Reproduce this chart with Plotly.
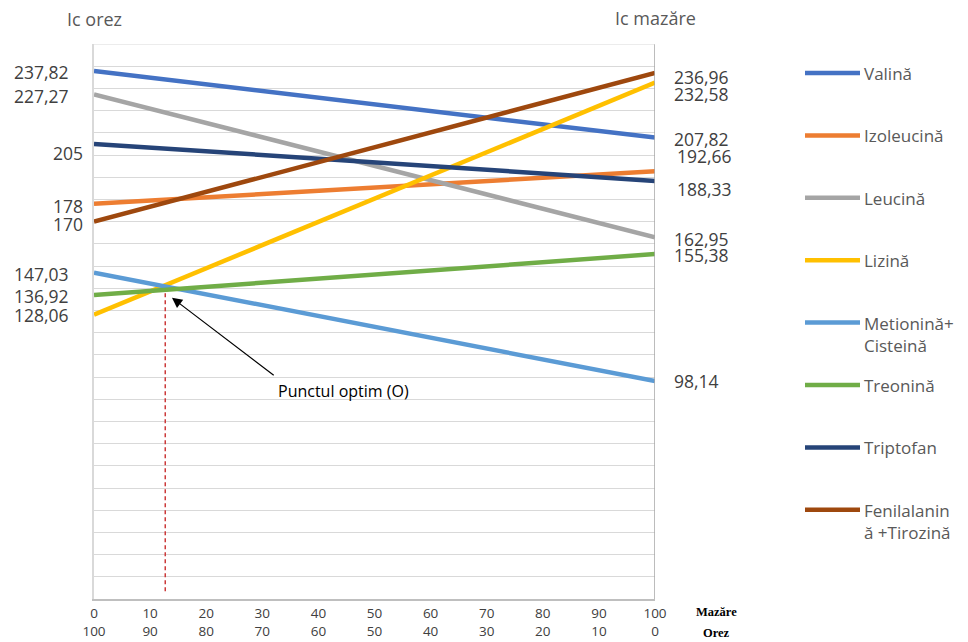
import plotly.graph_objects as go

# --- date ---------------------------------------------------------------
aminoacizi = [
    "Valină", "Izoleucină", "Leucină", "Lizină",
    "Metionină+Cisteină", "Treonină", "Triptofan", "Fenilalanină +Tirozină",
]
# etichetele din legendă, rupte pe două rânduri unde e cazul
etichete_legenda = [
    "Valină", "Izoleucină", "Leucină", "Lizină",
    "Metionină+<br>Cisteină", "Treonină", "Triptofan", "Fenilalanin<br>ă +Tirozină",
]
ic_orez = [237.82, 178, 227.27, 128.06, 147.03, 136.92, 205, 170]
ic_mazare = [207.82, 192.66, 162.95, 232.58, 98.14, 155.38, 188.33, 236.96]

procent_mazare = [0, 10, 20, 30, 40, 50, 60, 70, 80, 90, 100]
procent_orez = [100, 90, 80, 70, 60, 50, 40, 30, 20, 10, 0]

punct_optim_x = 12.7
punct_optim_y = 142

# --- stil ---------------------------------------------------------------
culori = ["#4472C4", "#ED7D31", "#A5A5A5", "#FFC000",
          "#5B9BD5", "#70AD47", "#264478", "#9E480E"]

# decalaje (px) pentru etichetele valorilor, ca să nu se suprapună
decalaj_stanga = [(-23, -1.4), (-9, -2), (-23, -2), (-23, 0),
                  (-23, -1.4), (-23, -0.7), (-9, -9), (-9, -2)]
decalaj_dreapta = [(17, -1.5), (20, 15), (17, -1.5), (17, -11),
                   (17, 0), (17, -0.5), (20, -8), (17, -4)]

W, H = 968, 642
ML, MR, MT, MB = 94, 313, 44, 43
PW, PH = W - ML - MR, H - MT - MB
FONT = "Open Sans"


def px_x(px):
    return (px - ML) / PW


def px_y(py):
    return 1 - (py - MT) / PH


def fmt(v):
    s = f"{v:.2f}".replace(".", ",")
    return s[:-3] if s.endswith(",00") else s


fig = go.Figure()

# linia punctată a punctului optim
fig.add_trace(go.Scatter(
    x=[punct_optim_x, punct_optim_x], y=[3.5, punct_optim_y],
    mode="lines", line=dict(color="#CC3A3A", width=1.5, dash="4px,3px"),
    showlegend=False, hoverinfo="skip",
))

for nume, yo, ym, c in zip(aminoacizi, ic_orez, ic_mazare, culori):
    fig.add_trace(go.Scatter(
        x=[0, 100], y=[yo, ym], mode="lines", name=nume,
        line=dict(color=c, width=4.5), showlegend=False,
    ))

ann = []
# valorile Ic orez (stânga) și Ic mazăre (dreapta)
for i in range(len(aminoacizi)):
    xs, ys = decalaj_stanga[i]
    ann.append(dict(x=0, y=ic_orez[i], xref="x", yref="y", text=fmt(ic_orez[i]),
                    showarrow=False, xanchor="right", yanchor="middle",
                    xshift=xs, yshift=ys, font=dict(size=17.5, color="#404040")))
    xs, ys = decalaj_dreapta[i]
    ann.append(dict(x=100, y=ic_mazare[i], xref="x", yref="y", text=fmt(ic_mazare[i]),
                    showarrow=False, xanchor="left", yanchor="middle",
                    xshift=xs, yshift=ys, font=dict(size=17.5, color="#404040")))

# titlurile axelor verticale
ann.append(dict(x=0, y=px_y(19), xref="paper", yref="paper", text="Ic orez",
                showarrow=False, xanchor="center", yanchor="middle",
                font=dict(size=18, color="#595959")))
ann.append(dict(x=1, y=px_y(18), xref="paper", yref="paper", text="Ic mazăre",
                showarrow=False, xanchor="center", yanchor="middle",
                font=dict(size=18, color="#595959")))

# denumirile rândurilor de pe axa orizontală
ann.append(dict(x=px_x(716), y=px_y(612), xref="paper", yref="paper", text="<b>Mazăre</b>",
                showarrow=False, xanchor="center", yanchor="middle",
                font=dict(size=12.5, color="#000000", family="Liberation Serif")))
ann.append(dict(x=px_x(716), y=px_y(633), xref="paper", yref="paper", text="<b>Orez</b>",
                showarrow=False, xanchor="center", yanchor="middle",
                font=dict(size=12.5, color="#000000", family="Liberation Serif")))

# săgeata și eticheta punctului optim
ann.append(dict(x=13.9, y=135.7, xref="x", yref="y", ax=32.3, ay=100.3,
                axref="x", ayref="y", text="", showarrow=True,
                arrowhead=2, arrowsize=1.7, arrowwidth=1.2, arrowcolor="#000000",
                standoff=0, startstandoff=0))
ann.append(dict(x=44.5, y=93.8, xref="x", yref="y", text="Punctul optim (O)",
                showarrow=False, xanchor="center", yanchor="middle",
                font=dict(size=16, color="#000000")))

# legenda
shapes = []
for i, (et, c) in enumerate(zip(etichete_legenda, culori)):
    yy = 73 + 62.4 * i
    shapes.append(dict(type="line", xref="paper", yref="paper",
                       x0=px_x(805), x1=px_x(860), y0=px_y(yy), y1=px_y(yy),
                       line=dict(color=c, width=4.5)))
    ann.append(dict(x=px_x(862), y=px_y(yy - 13), xref="paper", yref="paper",
                    text=et, showarrow=False, xanchor="left", yanchor="top",
                    align="left", font=dict(size=17, color="#595959")))

# marginea din dreapta și cea de sus a zonei de desen
shapes.append(dict(type="line", xref="x", yref="y", x0=100, x1=100, y0=0, y1=250,
                   line=dict(color="#A6A6A6", width=1.5)))
shapes.append(dict(type="line", xref="x", yref="y", x0=0, x1=100, y0=250, y1=250,
                   line=dict(color="#D9D9D9", width=1)))

fig.update_layout(
    width=W, height=H,
    margin=dict(l=ML, r=MR, t=MT, b=MB),
    paper_bgcolor="white", plot_bgcolor="white",
    font=dict(family=FONT, color="#404040"),
    showlegend=False,
    annotations=ann, shapes=shapes,
    xaxis=dict(range=[0, 100], tickvals=procent_mazare,
               ticktext=[f"{m}<br>{o}" for m, o in zip(procent_mazare, procent_orez)],
               tickfont=dict(size=13.5, color="#404040"),
               showgrid=False, zeroline=False, showline=True, automargin=False,
               linecolor="#BFBFBF", linewidth=1.5, ticks="", ticklabelstandoff=1),
    yaxis=dict(range=[0, 250], dtick=10, showticklabels=False, automargin=False,
               gridcolor="#D9D9D9", gridwidth=1, zeroline=False,
               showline=True, linecolor="#D9D9D9", linewidth=1.5, ticks=""),
)

fig.write_html("out.html")
